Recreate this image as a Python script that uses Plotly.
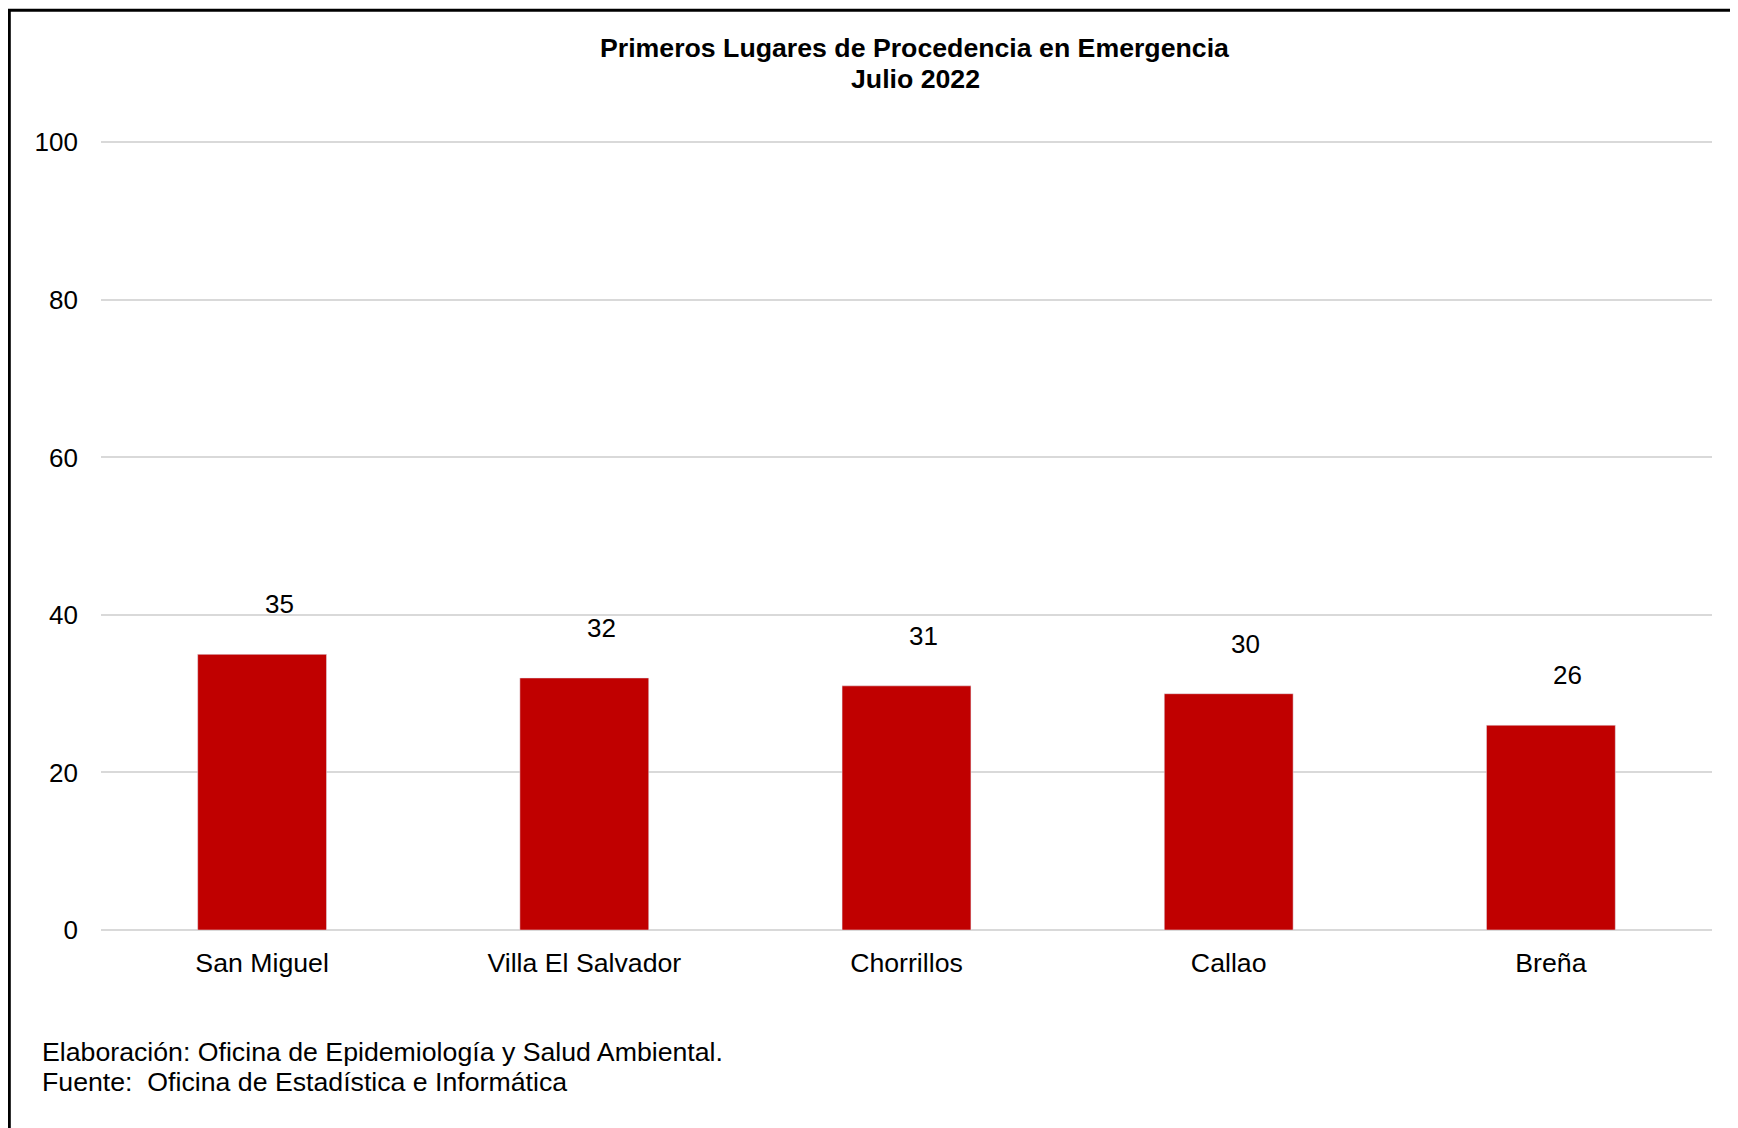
import plotly.graph_objects as go

# Data
lugares = ["San Miguel", "Villa El Salvador", "Chorrillos", "Callao", "Breña"]
casos = [35, 32, 31, 30, 26]
y_ticks = [0, 20, 40, 60, 80, 100]

titulo_1 = "<b>Primeros Lugares de Procedencia en Emergencia</b>"
titulo_2 = "<b>Julio 2022</b>"
pie_1 = "Elaboración: Oficina de Epidemiología y Salud Ambiental."
pie_2 = "Fuente:&nbsp; Oficina de Estadística e Informática"

# page body has an 8px margin, so the figure is shifted by that much
OFF = 8
W, H = 1738 - OFF, 1128 - OFF
ML, MR, MT, MB = 101 - OFF, 26, 140 - OFF, 198
pw, ph = W - ML - MR, H - MT - MB
FONT = "Arial, Liberation Sans, sans-serif"
FS = 26.7
FS_TICK = 26


def px_x(x):
    # x given in page pixels
    return (x - OFF - ML) / pw


def px_y(y):
    # y given in page pixels
    return (H - MB - (y - OFF)) / ph


fig = go.Figure()
fig.add_trace(go.Bar(
    x=lugares,
    y=casos,
    marker_color="#C00000",
    width=0.4,
    showlegend=False,
))

# Data labels (sit a little above and to the right of each bar)
for lug, val in zip(lugares, casos):
    fig.add_annotation(
        x=lug, y=val, text=str(val), showarrow=False,
        xshift=17, yshift=50,
        font=dict(size=FS_TICK, color="black", family=FONT),
    )

# Title, two lines
for txt, yy in [(titulo_1, 48), (titulo_2, 79)]:
    fig.add_annotation(
        xref="paper", yref="paper", x=px_x(915), y=px_y(yy),
        xanchor="center", yanchor="middle",
        text=txt, showarrow=False,
        font=dict(size=FS, color="black", family=FONT),
    )

# Footer
for txt, yy in [(pie_1, 1052), (pie_2, 1082)]:
    fig.add_annotation(
        xref="paper", yref="paper", x=px_x(40), y=px_y(yy),
        xanchor="left", yanchor="middle", align="left",
        text=txt, showarrow=False,
        font=dict(size=FS, color="black", family=FONT),
    )

# Frame (only top and left edges visible in the crop)
fig.add_shape(type="line", xref="paper", yref="paper",
              x0=px_x(8), x1=px_x(1760), y0=px_y(10.3), y1=px_y(10.3),
              line=dict(color="black", width=3))
fig.add_shape(type="line", xref="paper", yref="paper",
              x0=px_x(9.3), x1=px_x(9.3), y0=px_y(9), y1=px_y(1150),
              line=dict(color="black", width=3))

fig.update_layout(
    width=W, height=H,
    margin=dict(l=ML, r=MR, t=MT, b=MB),
    paper_bgcolor="white",
    plot_bgcolor="white",
    font=dict(family=FONT, color="black", size=FS),
    bargap=0.6,
)
fig.update_xaxes(
    showline=False, ticks="", ticklabelstandoff=14,
    tickfont=dict(size=FS),
)
fig.update_yaxes(
    range=[0, 100.3], tickvals=y_ticks,
    showgrid=True, gridcolor="#D9D9D9", gridwidth=2,
    zeroline=True, zerolinecolor="#D9D9D9", zerolinewidth=2,
    showline=False, ticks="", ticklabelstandoff=22,
    tickfont=dict(size=FS_TICK),
)

fig.write_html("out.html")
